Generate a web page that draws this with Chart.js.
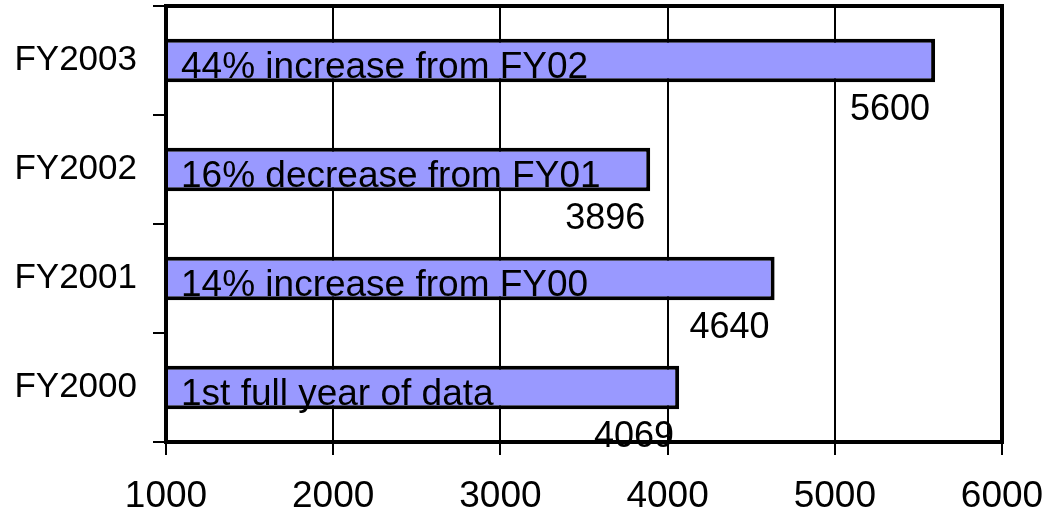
<!DOCTYPE html>
<html>
<head>
<meta charset="utf-8">
<title>Fiscal year totals</title>
<script src="https://cdn.jsdelivr.net/npm/chart.js@4/dist/chart.umd.min.js"></script>
<style>
    html, body { margin: 0; padding: 0; background: #fff; }
    #wrap { width: 1051px; height: 518px; position: relative; }
</style>
</head>
<body>
<div id="wrap"><canvas id="chart" width="1051" height="518"></canvas></div>
<script>
// Data (top row first)
const years = ['FY2003', 'FY2002', 'FY2001', 'FY2000'];
const totals = [5600, 3896, 4640, 4069];
const notes = ['44% increase from FY02', '16% decrease from FY01', '14% increase from FY00', '1st full year of data'];
const xTicks = [1000, 2000, 3000, 4000, 5000, 6000];

const FONT = '"Liberation Sans", Arial, sans-serif';

// Drop the extra room Chart.js keeps for overflowing labels
function noPad(s) {
    s.paddingTop = 0;
    s.paddingBottom = 0;
    s.paddingLeft = 0;
    s.paddingRight = 0;
}

// Text inside each bar and the value just under its end
const barLabels = {
    id: 'barLabels',
    afterDatasetsDraw(chart) {
        const ctx = chart.ctx;
        const meta = chart.getDatasetMeta(0);
        const left = chart.chartArea.left;
        ctx.save();
        ctx.fillStyle = '#000';
        meta.data.forEach((bar, i) => {
            const bottom = bar.y + bar.height / 2;
            ctx.font = '37px ' + FONT;
            ctx.textAlign = 'left';
            ctx.textBaseline = 'alphabetic';
            ctx.fillText(notes[i], left + 15, bottom - 4);
            ctx.font = '36px ' + FONT;
            ctx.textAlign = 'right';
            ctx.fillText(String(totals[i]), bar.x - 5, bottom + 38);
        });
        ctx.restore();
    },
    // Plot frame goes on top of everything
    afterDraw(chart) {
        const { left, top, right, bottom } = chart.chartArea;
        const ctx = chart.ctx;
        ctx.save();
        ctx.strokeStyle = '#000';
        ctx.lineWidth = 4;
        ctx.strokeRect(left, top, right - left, bottom - top);
        ctx.restore();
    }
};

new Chart(document.getElementById('chart'), {
    type: 'bar',
    data: {
        labels: years,
        datasets: [{
            data: totals,
            backgroundColor: '#9999FF',
            borderColor: '#000',
            borderWidth: 4,
            borderSkipped: false,
            barPercentage: 0.4,
            categoryPercentage: 1
        }]
    },
    options: {
        indexAxis: 'y',
        responsive: false,
        animation: false,
        layout: { padding: { top: 6, right: 49, left: 0, bottom: 0 } },
        plugins: {
            legend: { display: false },
            tooltip: { enabled: false }
        },
        scales: {
            x: {
                min: 1000,
                max: 6000,
                afterFit: s => { s.height = 76; noPad(s); },
                afterBuildTicks: s => { s.ticks = xTicks.map(v => ({ value: v })); },
                border: { display: false },
                grid: { color: '#000', lineWidth: 2, tickLength: 13 },
                ticks: {
                    color: '#000',
                    padding: 20,
                    font: { family: FONT, size: 37 },
                    callback: v => String(v)
                }
            },
            y: {
                afterFit: s => { s.width = 166; noPad(s); },
                border: { display: false },
                grid: { drawOnChartArea: false, color: '#000', lineWidth: 2, tickLength: 13, offset: true },
                ticks: { color: '#000', padding: 16, font: { family: FONT, size: 35 } }
            }
        }
    },
    plugins: [barLabels]
});
</script>
</body>
</html>
